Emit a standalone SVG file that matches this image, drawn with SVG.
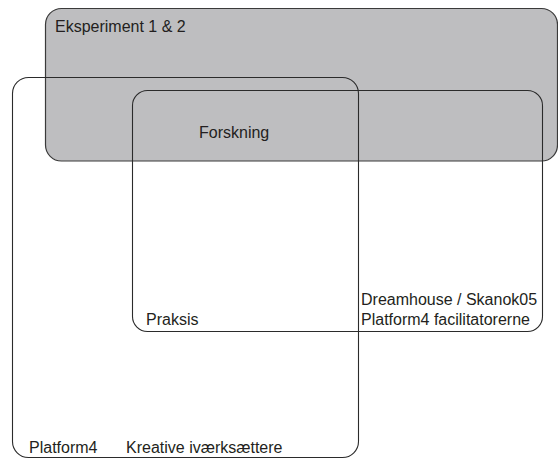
<svg xmlns="http://www.w3.org/2000/svg" width="558" height="459" viewBox="0 0 558 459">
<style>
.box{fill:none;stroke:#2b2b2b;stroke-width:1.1}
.grey{fill:#bebec0;stroke:#3a3a3a;stroke-width:1.2}
text{font-family:"Liberation Sans",Arial,sans-serif;font-size:16px;fill:#231f20}
</style>
<rect width="558" height="459" fill="#ffffff"/>
<g id="eksperiment">
<rect class="grey" x="45.5" y="8.5" width="512" height="152.5" rx="16" ry="16"/>
<text x="55" y="32">Eksperiment 1 &amp; 2</text>
</g>
<g id="platform4">
<rect class="box" x="12.5" y="77.5" width="346" height="380" rx="16" ry="16"/>
<text x="29" y="453">Platform4</text>
<text x="126" y="453">Kreative iværksættere</text>
</g>
<g id="forskning-praksis">
<rect class="box" x="132.5" y="90.5" width="410" height="241" rx="15" ry="15"/>
<text x="199" y="138">Forskning</text>
<text x="146" y="325">Praksis</text>
<text x="361" y="305">Dreamhouse / Skanok05</text>
<text x="361" y="325">Platform4 facilitatorerne</text>
</g>
<g id="connectors"></g>
</svg>
